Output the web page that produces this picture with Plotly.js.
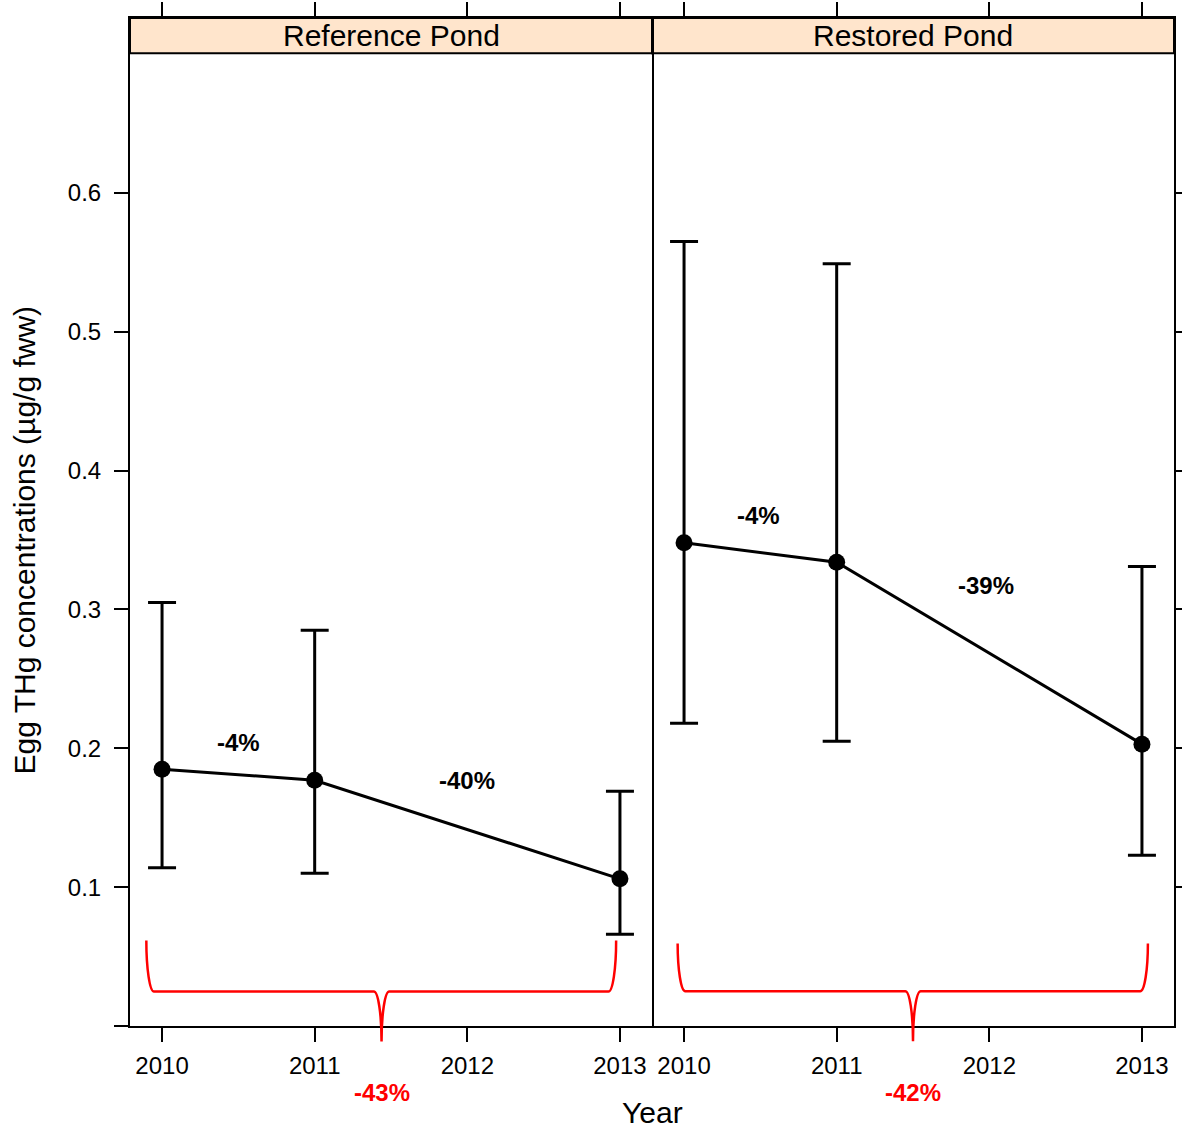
<!DOCTYPE html>
<html>
<head>
<meta charset="utf-8">
<script src="https://cdn.plot.ly/plotly-3.0.1.min.js"></script>
<style>body{margin:0;padding:0;background:#fff;} #chart{width:1182px;height:1130px;}</style>
</head>
<body>
<div id="chart"></div>
<script>
// ---- data ----
const years = [2010, 2011, 2013];
const panelNames = ['Reference Pond', 'Restored Pond'];
const refMean  = [0.185, 0.177, 0.106];
const refUpper = [0.305, 0.285, 0.169];
const refLower = [0.114, 0.110, 0.066];
const resMean  = [0.348, 0.334, 0.203];
const resUpper = [0.565, 0.549, 0.331];
const resLower = [0.218, 0.205, 0.123];
const xTicks = [2010, 2011, 2012, 2013];
const yTicks = [0.1, 0.2, 0.3, 0.4, 0.5, 0.6];
const refStepLabels = ['-4%', '-40%'];
const refStepX = [2010.50, 2012.00];
const refStepY = [0.204, 0.177];
const resStepLabels = ['-4%', '-39%'];
const resStepX = [2010.49, 2011.98];
const resStepY = [0.368, 0.317];
const overallLabels = ['-43%', '-42%'];
// braces: [left, right, tip, top, bar, bottom]
const refBrace = [2009.897, 2012.975, 2011.438, 0.0615, 0.0248, -0.0112];
const resBrace = [2009.958, 2013.039, 2011.500, 0.0594, 0.0251, -0.0110];

const FONT = 'Liberation Sans, Arial, sans-serif';
const Y_RANGE = [0, 0.726];
const X_RANGE = [2009.79, 2013.21];
const STRIP_BOTTOM = 0.7007;

function panelTrace(mean, upper, lower, xa, ya) {
  return {
    x: years, y: mean, xaxis: xa, yaxis: ya,
    type: 'scatter', mode: 'lines+markers',
    line: {color: 'black', width: 3},
    marker: {color: 'black', size: 17},
    error_y: {
      type: 'data', symmetric: false,
      array: upper.map((u, i) => u - mean[i]),
      arrayminus: lower.map((l, i) => mean[i] - l),
      color: 'black', thickness: 3, width: 14
    },
    hoverinfo: 'none', showlegend: false, cliponaxis: false
  };
}

const traces = [
  panelTrace(refMean, refUpper, refLower, 'x', 'y'),
  panelTrace(resMean, resUpper, resLower, 'x2', 'y2')
];

function yp(v) { return (v - Y_RANGE[0]) / (Y_RANGE[1] - Y_RANGE[0]); }

function bracePath(b) {
  const [L, R, T, top, bar, bot] = b;
  const dx = 0.05, dxt = 0.05, k = 0.552;
  const P = (x, y) => x + ',' + yp(y);
  return 'M ' + P(L, top) +
    ' C ' + P(L, top - k * (top - bar)) + ' ' + P(L + dx - k * dx, bar) + ' ' + P(L + dx, bar) +
    ' L ' + P(T - dxt, bar) +
    ' C ' + P(T - dxt + k * dxt, bar) + ' ' + P(T, bot + k * (bar - bot)) + ' ' + P(T, bot) +
    ' C ' + P(T, bot + k * (bar - bot)) + ' ' + P(T + dxt - k * dxt, bar) + ' ' + P(T + dxt, bar) +
    ' L ' + P(R - dx, bar) +
    ' C ' + P(R - dx + k * dx, bar) + ' ' + P(R, top - k * (top - bar)) + ' ' + P(R, top);
}

const shapes = [
  {type: 'rect', xref: 'x domain', yref: 'y', x0: 0, x1: 1, y0: STRIP_BOTTOM, y1: Y_RANGE[1],
   fillcolor: '#FFE5CC', line: {color: 'black', width: 2}, layer: 'below'},
  {type: 'rect', xref: 'x2 domain', yref: 'y2', x0: 0, x1: 1, y0: STRIP_BOTTOM, y1: Y_RANGE[1],
   fillcolor: '#FFE5CC', line: {color: 'black', width: 2}, layer: 'below'},
  {type: 'path', xref: 'x', yref: 'paper', path: bracePath(refBrace), line: {color: 'red', width: 2.5}},
  {type: 'path', xref: 'x2', yref: 'paper', path: bracePath(resBrace), line: {color: 'red', width: 2.5}}
];

const annotations = [];
[['x', 'y'], ['x2', 'y2']].forEach((ax, i) => {
  annotations.push({
    xref: ax[0], yref: ax[1], x: (X_RANGE[0] + X_RANGE[1]) / 2, y: (STRIP_BOTTOM + Y_RANGE[1]) / 2,
    text: panelNames[i], showarrow: false, font: {family: FONT, size: 30, color: 'black'},
    xanchor: 'center', yanchor: 'middle'
  });
});
refStepLabels.forEach((t, i) => annotations.push({
  xref: 'x', yref: 'y', x: refStepX[i], y: refStepY[i], text: '<b>' + t + '</b>', showarrow: false,
  font: {family: FONT, size: 24, color: 'black'}
}));
resStepLabels.forEach((t, i) => annotations.push({
  xref: 'x2', yref: 'y2', x: resStepX[i], y: resStepY[i], text: '<b>' + t + '</b>', showarrow: false,
  font: {family: FONT, size: 24, color: 'black'}
}));
annotations.push({
  xref: 'x', yref: 'paper', x: refBrace[2], y: -0.066, text: '<b>' + overallLabels[0] + '</b>',
  showarrow: false, font: {family: FONT, size: 24, color: 'red'}, yanchor: 'middle'
});
annotations.push({
  xref: 'x2', yref: 'paper', x: resBrace[2], y: -0.066, text: '<b>' + overallLabels[1] + '</b>',
  showarrow: false, font: {family: FONT, size: 24, color: 'red'}, yanchor: 'middle'
});
annotations.push({
  xref: 'paper', yref: 'paper', x: 0.5, y: -0.086, text: 'Year', showarrow: false,
  font: {family: FONT, size: 30, color: 'black'}, xanchor: 'center', yanchor: 'middle'
});
annotations.push({
  xref: 'paper', yref: 'paper', x: -0.1006, y: 0.4826, text: 'Egg THg concentrations (µg/g fww)',
  textangle: -90, showarrow: false, font: {family: FONT, size: 30, color: 'black'},
  xanchor: 'center', yanchor: 'middle'
});

const xBase = {
  range: X_RANGE, tickvals: xTicks, ticktext: xTicks.map(String), ticks: 'outside', ticklen: 14,
  tickwidth: 2, tickcolor: 'black', showline: true, linecolor: 'black', linewidth: 2,
  mirror: 'ticks', showgrid: false, zeroline: false,
  tickfont: {family: FONT, size: 24, color: 'black'}, ticklabelstandoff: 3
};

const layout = {
  width: 1182, height: 1130,
  margin: {l: 130, r: 8, t: 18, b: 104, pad: 0},
  paper_bgcolor: 'white', plot_bgcolor: 'white',
  showlegend: false,
  xaxis: Object.assign({}, xBase, {domain: [0, 0.5], anchor: 'y'}),
  xaxis2: Object.assign({}, xBase, {domain: [0.5, 1], anchor: 'y2'}),
  yaxis: {
    range: Y_RANGE, domain: [0, 1], anchor: 'x',
    tickvals: [0].concat(yTicks), ticktext: [''].concat(yTicks.map(v => v.toFixed(1))),
    ticks: 'outside', ticklen: 14, tickwidth: 2, tickcolor: 'black',
    showline: true, linecolor: 'black', linewidth: 2, mirror: true,
    showgrid: false, zeroline: false,
    tickfont: {family: FONT, size: 24, color: 'black'}, ticklabelstandoff: 8
  },
  yaxis2: {
    range: Y_RANGE, domain: [0, 1], anchor: 'x2', side: 'right',
    tickvals: yTicks, showticklabels: false,
    ticks: 'outside', ticklen: 14, tickwidth: 2, tickcolor: 'black',
    showline: true, linecolor: 'black', linewidth: 2, mirror: false,
    showgrid: false, zeroline: false
  },
  shapes: shapes,
  annotations: annotations
};

Plotly.newPlot('chart', traces, layout, {displayModeBar: false, staticPlot: true});
</script>
</body>
</html>
